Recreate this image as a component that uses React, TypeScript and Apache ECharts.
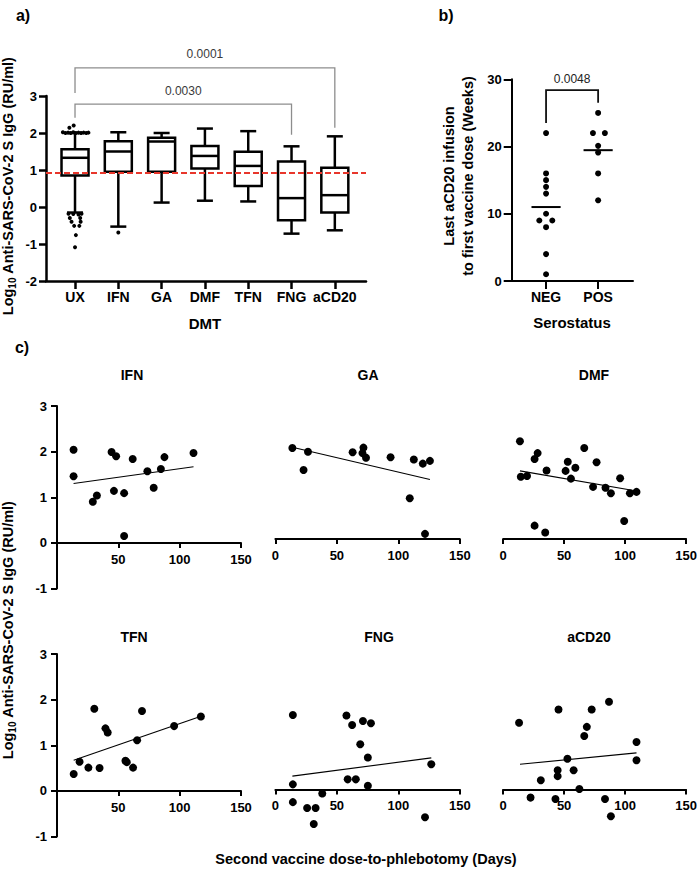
import React, { useEffect, useRef } from 'react';
import * as echarts from 'echarts';

const FONT = '"Liberation Sans", Arial, Helvetica, sans-serif';

// ---------- Panel a: box plots by DMT ----------
const dmtCategories = ['UX', 'IFN', 'GA', 'DMF', 'TFN', 'FNG', 'aCD20'];
// [min whisker, Q1, median, Q3, max whisker]
const boxStats = [
  [-0.15, 0.85, 1.33, 1.56, 2.0],
  [-0.53, 0.95, 1.5, 1.78, 2.02],
  [0.12, 0.95, 1.77, 1.87, 2.0],
  [0.17, 1.04, 1.38, 1.65, 2.12],
  [0.15, 0.57, 1.11, 1.49, 2.05],
  [-0.72, -0.36, 0.24, 1.23, 1.64],
  [-0.63, -0.15, 0.32, 1.06, 1.91],
];
// [category index, jitter, value]
const boxOutliers = [
  [0, -0.28, 2.02], [0, -0.22, 2.0], [0, -0.16, 2.01], [0, -0.1, 2.0], [0, -0.04, 2.02],
  [0, 0.02, 2.0], [0, 0.08, 2.01], [0, 0.14, 2.0], [0, 0.2, 2.01], [0, 0.26, 2.0], [0, 0.31, 2.01],
  [0, -0.13, 2.14], [0, -0.03, 2.2],
  [0, -0.15, -0.18], [0, -0.04, -0.19], [0, 0.08, -0.2], [0, 0.15, -0.18],
  [0, -0.12, -0.3], [0, 0.12, -0.3], [0, -0.08, -0.4], [0, 0.13, -0.4],
  [0, -0.02, -0.51], [0, 0.1, -0.51], [0, 0.02, -0.76], [0, 0.0, -1.09],
  [1, 0.0, -0.69],
];
const seroThreshold = 0.92;
// [from cat, to cat, top, end at from, end at to]
const dmtBrackets = [
  [0, 6, 3.76, 3.08, 2.14],
  [0, 5, 2.78, 2.41, 1.95],
];
const dmtBracketLabels = ['0.0001', '0.0030'];

// ---------- Panel b: serostatus ----------
const seroCategories = ['NEG', 'POS'];
const negWeeks = [22, 16, 15, 14, 13, 10, 9, 9, 8, 4, 1];
const negJitter = [0, 0, 0, 0, 0, 0, -0.13, 0.12, 0, 0, 0];
const posWeeks = [25, 22, 22, 20.1, 19.1, 16, 12];
const posJitter = [0, -0.1, 0.13, 0, 0, 0, 0];
const seroBracket = [0, 1, 28.4, 23.5, 26.5];
const seroBracketLabel = '0.0048';

// ---------- Panel c: days vs titre ----------
const cTitles = ['IFN', 'GA', 'DMF', 'TFN', 'FNG', 'aCD20'];
const ifnPoints = [[13.5, 2.04], [13.5, 1.46], [29.2, 0.9], [32.5, 1.04], [44.5, 1.99], [46.4, 1.14], [48.2, 1.9], [54.7, 1.09], [54.7, 0.15], [61.7, 1.84], [73.7, 1.57], [78.8, 1.21], [84.7, 1.62], [87.6, 1.88], [111.3, 1.97]];
const ifnFit = [[13.5, 1.3], [111.3, 1.67]];
const gaPoints = [[13.8, 1.99], [22.9, 1.51], [26.5, 1.91], [62.8, 1.9], [71.6, 2.0], [70.8, 1.88], [73.7, 1.78], [93.7, 1.79], [109.3, 0.89], [112.6, 1.74], [119.9, 1.65], [125.7, 1.71], [121.7, 0.11]];
const gaFit = [[13.8, 2.01], [125.7, 1.3]];
const dmfPoints = [[13.8, 2.14], [14.5, 1.36], [19.6, 1.38], [25.8, 1.75], [28.3, 1.88], [25.8, 0.29], [34.5, 0.14], [35.6, 1.5], [51.2, 1.49], [53.0, 1.69], [55.6, 1.32], [59.2, 1.56], [66.5, 1.99], [73.7, 1.14], [76.6, 1.68], [83.9, 1.12], [88.3, 1.0], [95.9, 1.33], [99.2, 0.39], [103.9, 1.0], [109.3, 1.03]];
const dmfFit = [[13.8, 1.49], [109.3, 1.05]];
const tfnPoints = [[13.6, 0.37], [18.4, 0.64], [25.6, 0.51], [30.4, 1.8], [34.7, 0.5], [39.5, 1.37], [41.3, 1.28], [55.8, 0.66], [56.9, 0.63], [62.0, 0.51], [65.3, 1.11], [69.3, 1.75], [95.5, 1.42], [117.3, 1.63]];
const tfnFit = [[13.6, 0.67], [118, 1.64]];
const fngPoints = [[14.2, 1.63], [14.2, 0.11], [14.2, -0.28], [25.8, -0.41], [32.7, -0.41], [31.2, -0.76], [38.1, -0.09], [57.8, 1.62], [58.8, 0.22], [62.4, 1.41], [65.4, 0.22], [69.0, 0.99], [71.2, 1.5], [77.7, 1.45], [75.2, 0.7], [75.2, 0.08], [126.8, 0.55], [121.7, -0.61]];
const fngFit = [[13.8, 0.29], [126.8, 0.69]];
const acd20Points = [[13.1, 1.46], [22.5, -0.18], [30.9, 0.2], [42.9, -0.21], [44.7, 0.42], [44.7, 0.29], [45.4, 1.75], [52.7, 0.67], [57.8, 0.42], [62.5, 0.01], [66.5, 1.17], [68.6, 1.37], [72.6, 1.75], [83.5, -0.21], [86.8, 1.92], [88.3, -0.59], [109.3, 1.04], [109.3, 0.64]];
const acd20Fit = [[13.8, 0.55], [109.3, 0.8]];
const cPoints = [ifnPoints, gaPoints, dmfPoints, tfnPoints, fngPoints, acd20Points];
const cFits = [ifnFit, gaFit, dmfFit, tfnFit, fngFit, acd20Fit];
const cYMin = -1;
const cYMax = 3;

const mean = (a: number[]) => a.reduce((s, v) => s + v, 0) / a.length;

function buildOption() {
  const black = '#000';
  const dot = { color: black, opacity: 1 };
  const boldLabel = (size: number, extra: any = {}) => ({
    color: black, fontWeight: 'bold', fontSize: size, fontFamily: FONT, ...extra,
  });

  const cH = 182.5;
  const grids: any[] = [
    { left: 46, top: 96, width: 320, height: 185 },
    { left: 511.7, top: 79.3, width: 121.3, height: 201.7 },
    { left: 57, top: 406, width: 184, height: cH },
    { left: 275.4, top: 402, width: 184.4, height: cH },
    { left: 503.1, top: 402, width: 184.4, height: cH },
    { left: 57, top: 654, width: 184, height: cH },
    { left: 275.4, top: 652.5, width: 184.4, height: cH },
    { left: 503.1, top: 652.5, width: 184.4, height: cH },
  ];
  // x axis of panel c sits at y = 0: shift it up from the grid bottom
  const zeroOffset = -cH * (0 - cYMin) / (cYMax - cYMin);

  const xAxes: any[] = [
    {
      type: 'value', gridIndex: 0, min: -0.67, max: 6.72,
      axisLine: { onZero: false, lineStyle: { color: black, width: 2.5 } },
      axisTick: { customValues: [0, 1, 2, 3, 4, 5, 6], length: 8, lineStyle: { color: black, width: 2.5 } },
      axisLabel: boldLabel(14, { customValues: [0, 1, 2, 3, 4, 5, 6], margin: 9, formatter: (v: number) => dmtCategories[Math.round(v)] }),
      splitLine: { show: false },
    },
    {
      type: 'value', gridIndex: 1, min: -0.66, max: 1.67,
      axisLine: { onZero: false, lineStyle: { color: black, width: 2 } },
      axisTick: { customValues: [0, 1], length: 8, lineStyle: { color: black, width: 2 } },
      axisLabel: boldLabel(14, { customValues: [0, 1], margin: 9, formatter: (v: number) => seroCategories[Math.round(v)] }),
      splitLine: { show: false },
    },
  ];
  const yAxes: any[] = [
    {
      type: 'value', gridIndex: 0, min: -2, max: 3, interval: 1,
      axisLine: { show: true, onZero: false, lineStyle: { color: black, width: 2.5 } },
      axisTick: { show: true, length: 7, lineStyle: { color: black, width: 2.5 } },
      axisLabel: boldLabel(13, { margin: 9 }),
      splitLine: { show: false },
    },
    {
      type: 'value', gridIndex: 1, min: 0, max: 30, interval: 10,
      axisLine: { show: true, onZero: false, lineStyle: { color: black, width: 2 } },
      axisTick: { show: true, length: 8, lineStyle: { color: black, width: 2 } },
      axisLabel: boldLabel(13, { margin: 10 }),
      splitLine: { show: false },
    },
  ];
  for (let k = 0; k < 6; k++) {
    const hasY = k === 0 || k === 3;
    xAxes.push({
      type: 'value', gridIndex: 2 + k, min: 0, max: 150, interval: 50,
      position: 'bottom', offset: zeroOffset,
      axisLine: { show: true, onZero: false, lineStyle: { color: black, width: 2 } },
      axisTick: hasY
        ? { show: true, customValues: [50, 100, 150], length: 5, lineStyle: { color: black, width: 2 } }
        : { show: true, length: 5, lineStyle: { color: black, width: 2 } },
      axisLabel: boldLabel(13, hasY ? { customValues: [50, 100, 150], margin: 10 } : { margin: 10 }),
      splitLine: { show: false },
    });
    yAxes.push({
      type: 'value', gridIndex: 2 + k, min: cYMin, max: cYMax, interval: 1, show: hasY,
      axisLine: { show: true, onZero: false, lineStyle: { color: black, width: 2 } },
      axisTick: { show: true, length: 6, lineStyle: { color: black, width: 2 } },
      axisLabel: boldLabel(13, { margin: 10 }),
      splitLine: { show: false },
    });
  }

  const series: any[] = [];

  // Box plots
  series.push({
    type: 'custom', xAxisIndex: 0, yAxisIndex: 0,
    data: boxStats.map((s, i) => [i, ...s]),
    encode: { x: 0, y: [1, 2, 3, 4, 5] },
    renderItem: (params: any, api: any) => {
      const x = api.value(0);
      const p = [1, 2, 3, 4, 5].map((d) => api.coord([x, api.value(d)]));
      const [pMin, pQ1, pMed, pQ3, pMax] = p;
      const bw = 13.5;
      const cw = 8;
      const st = { stroke: black, lineWidth: 2.5, fill: 'none' };
      const cx = pMed[0];
      return {
        type: 'group',
        children: [
          { type: 'line', shape: { x1: cx, y1: pMax[1], x2: cx, y2: pQ3[1] }, style: st },
          { type: 'line', shape: { x1: cx - cw, y1: pMax[1], x2: cx + cw, y2: pMax[1] }, style: st },
          { type: 'line', shape: { x1: cx, y1: pQ1[1], x2: cx, y2: pMin[1] }, style: st },
          { type: 'line', shape: { x1: cx - cw, y1: pMin[1], x2: cx + cw, y2: pMin[1] }, style: st },
          { type: 'rect', shape: { x: cx - bw, y: pQ3[1], width: 2 * bw, height: pQ1[1] - pQ3[1] }, style: st },
          { type: 'line', shape: { x1: cx - bw, y1: pMed[1], x2: cx + bw, y2: pMed[1] }, style: st },
        ],
      };
    },
  });

  // Outliers + threshold
  series.push({
    type: 'scatter', xAxisIndex: 0, yAxisIndex: 0,
    data: boxOutliers.map((o) => [o[0] + o[1], o[2]]),
    symbolSize: 4, itemStyle: dot,
    markLine: {
      silent: true, symbol: 'none', label: { show: false },
      lineStyle: { color: '#e8362b', type: [6, 3], width: 2 },
      data: [{ yAxis: seroThreshold }],
    },
  });

  // Brackets helper
  const bracketRender = (labels: string[], stroke: string, lw: number, textColor: string, gap: number) =>
    (params: any, api: any) => {
      const x1 = api.value(0), x2 = api.value(1), top = api.value(2), e1 = api.value(3), e2 = api.value(4);
      const a = api.coord([x1, e1]);
      const b = api.coord([x1, top]);
      const c = api.coord([x2, top]);
      const d = api.coord([x2, e2]);
      return {
        type: 'group',
        children: [
          { type: 'polyline', shape: { points: [a, b, c, d] }, style: { stroke, lineWidth: lw, fill: 'none' } },
          {
            type: 'text',
            style: {
              text: labels[params.dataIndex], x: (b[0] + c[0]) / 2, y: b[1] - gap,
              align: 'center', verticalAlign: 'middle', fill: textColor,
              fontSize: 12, fontFamily: FONT,
            },
          },
        ],
      };
    };

  series.push({
    type: 'custom', xAxisIndex: 0, yAxisIndex: 0, clip: false,
    data: dmtBrackets,
    encode: { x: [0, 1], y: [2, 3, 4] },
    renderItem: bracketRender(dmtBracketLabels, '#8d8d8d', 1.3, '#3a3a3a', 13.5),
  });

  // Panel b
  series.push({
    type: 'scatter', xAxisIndex: 1, yAxisIndex: 1,
    data: [
      ...negWeeks.map((v, i) => [0 + negJitter[i], v]),
      ...posWeeks.map((v, i) => [1 + posJitter[i], v]),
    ],
    symbolSize: 6, itemStyle: dot,
  });
  series.push({
    type: 'custom', xAxisIndex: 1, yAxisIndex: 1,
    data: [[0, mean(negWeeks)], [1, mean(posWeeks)]],
    encode: { x: 0, y: 1 },
    renderItem: (params: any, api: any) => {
      const x = api.value(0), y = api.value(1);
      const a = api.coord([x - 0.28, y]);
      const b = api.coord([x + 0.28, y]);
      return { type: 'line', shape: { x1: a[0], y1: a[1], x2: b[0], y2: b[1] }, style: { stroke: black, lineWidth: 2 } };
    },
  });
  series.push({
    type: 'custom', xAxisIndex: 1, yAxisIndex: 1, clip: false,
    data: [seroBracket],
    encode: { x: [0, 1], y: [2, 3, 4] },
    renderItem: bracketRender([seroBracketLabel], '#111', 1.8, '#222', 11),
  });

  // Panel c
  for (let k = 0; k < 6; k++) {
    series.push({
      type: 'scatter', xAxisIndex: 2 + k, yAxisIndex: 2 + k,
      data: cPoints[k], symbolSize: 8, itemStyle: dot,
    });
    series.push({
      type: 'line', xAxisIndex: 2 + k, yAxisIndex: 2 + k,
      data: cFits[k], showSymbol: false, symbol: 'none',
      lineStyle: { color: black, width: 1.1 },
    });
  }

  const txt = (text: string, x: number, y: number, size: number, extra: any = {}, weight = 'bold') => ({
    type: 'text', x, y, ...extra,
    style: {
      text, align: 'center', verticalAlign: 'middle', fill: black,
      fontSize: size, fontWeight: weight, fontFamily: FONT,
    },
  });

  const yTitleRich = {
    m: { fontSize: 14.5, fontWeight: 'bold', fontFamily: FONT, fill: black, lineHeight: 18, verticalAlign: 'middle' },
    s: { fontSize: 10, fontWeight: 'bold', fontFamily: FONT, fill: black, lineHeight: 10, verticalAlign: 'bottom' },
  };
  const yTitle = (x: number, y: number) => ({
    type: 'text', x, y, rotation: Math.PI / 2,
    style: {
      text: '{m|Log}{s|10}{m| Anti-SARS-CoV-2 S IgG (RU/ml)}',
      rich: yTitleRich, align: 'center', verticalAlign: 'middle',
    },
  });

  const cTitlePos = [[132, 375], [368, 375], [594, 375], [134, 637], [379, 637], [589, 637]];

  const graphic: any[] = [
    txt('a)', 23, 15, 16),
    txt('b)', 446, 15, 16),
    txt('c)', 22, 347, 16),
    yTitle(8, 186),
    txt('DMT', 205, 323, 15),
    txt('Serostatus', 572, 322, 15),
    {
      type: 'text', x: 458, y: 176, rotation: Math.PI / 2,
      style: {
        text: 'Last aCD20 infusion\nto first vaccine dose (Weeks)',
        align: 'center', verticalAlign: 'middle', fill: black,
        fontSize: 14.5, fontWeight: 'bold', fontFamily: FONT, lineHeight: 19,
      },
    },
    yTitle(8, 630),
    txt('Second vaccine dose-to-phlebotomy (Days)', 366, 859, 14.5),
    ...cTitles.map((t, i) => txt(t, cTitlePos[i][0], cTitlePos[i][1], 14)),
  ];

  return {
    animation: false,
    backgroundColor: '#fff',
    grid: grids,
    xAxis: xAxes,
    yAxis: yAxes,
    series,
    graphic,
  };
}

export default function App() {
  const ref = useRef<HTMLDivElement>(null);
  useEffect(() => {
    document.body.style.margin = '0';
    if (!ref.current) return;
    const chart = echarts.init(ref.current, null, { renderer: 'svg' });
    chart.setOption(buildOption() as any);
    return () => chart.dispose();
  }, []);
  return <div ref={ref} style={{ position: 'absolute', left: 0, top: 0, width: 700, height: 871 }} />;
}
